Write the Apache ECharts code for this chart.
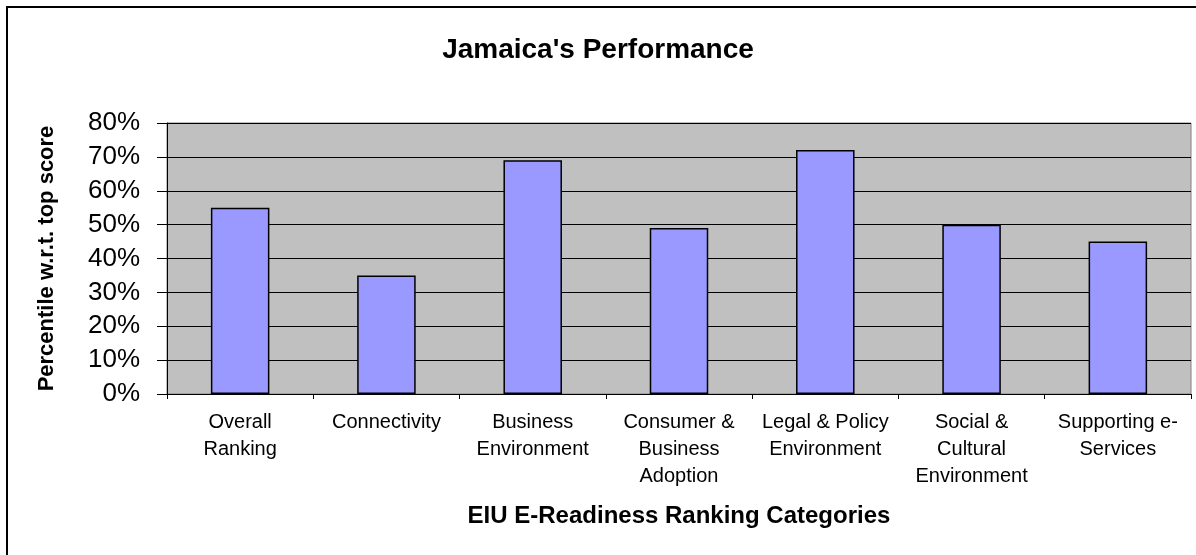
<!DOCTYPE html>
<html>
<head>
<meta charset="utf-8">
<script src="https://cdn.jsdelivr.net/npm/echarts@6/dist/echarts.min.js"></script>
<style>
html,body{margin:0;padding:0;background:#fff;}
#chart{width:1196px;height:555px;}
</style>
</head>
<body>
<div id="chart"></div>
<script>
var titleText = "Jamaica's Performance";
var categories = [
  "Overall\nRanking",
  "Connectivity",
  "Business\nEnvironment",
  "Consumer &\nBusiness\nAdoption",
  "Legal & Policy\nEnvironment",
  "Social &\nCultural\nEnvironment",
  "Supporting e-\nServices"
];
var values = [55, 35, 69, 49, 72, 50, 45];
var yAxisName = "Percentile w.r.t. top score";
var xAxisName = "EIU E-Readiness Ranking Categories";
var yMin = 0, yMax = 80, yInterval = 10;

var chart = echarts.init(document.getElementById('chart'));
var font = "'Liberation Sans', Arial, sans-serif";
chart.setOption({
  backgroundColor: '#ffffff',
  animation: false,
  title: {
    text: titleText,
    left: 'center',
    top: 31,
    textStyle: { fontFamily: font, fontWeight: 'bold', fontSize: 28, color: '#000' }
  },
  graphic: [{
    type: 'rect',
    shape: { x: 7, y: 7, width: 1400, height: 800 },
    style: { fill: 'none', stroke: '#000', lineWidth: 2 },
    silent: true,
    z: 100
  }],
  grid: {
    left: 167, right: 5, top: 123, bottom: 161,
    show: true,
    backgroundColor: '#C0C0C0',
    borderColor: '#808080',
    borderWidth: 1
  },
  xAxis: {
    type: 'category',
    data: categories,
    boundaryGap: true,
    name: xAxisName,
    nameLocation: 'middle',
    nameGap: 110,
    nameTextStyle: { fontFamily: font, fontWeight: 'bold', fontSize: 24, color: '#000' },
    axisLine: { lineStyle: { color: '#000', width: 1 } },
    axisTick: { show: true, length: 5, lineStyle: { color: '#000' } },
    axisLabel: {
      interval: 0,
      margin: 15,
      fontFamily: font,
      fontSize: 20,
      lineHeight: 27,
      color: '#000',
      align: 'center'
    },
    splitLine: { show: false }
  },
  yAxis: {
    type: 'value',
    min: yMin, max: yMax, interval: yInterval,
    name: yAxisName,
    nameLocation: 'middle',
    nameGap: 109,
    nameRotate: 90,
    nameTextStyle: { fontFamily: font, fontWeight: 'bold', fontSize: 22, color: '#000' },
    axisLine: { show: true, lineStyle: { color: '#000', width: 1 } },
    axisTick: { show: true, length: 10, lineStyle: { color: '#000' } },
    axisLabel: {
      formatter: '{value}%',
      margin: 27,
      fontFamily: font,
      fontSize: 26,
      color: '#000'
    },
    splitLine: { show: true, lineStyle: { color: '#000', width: 1 } }
  },
  series: [{
    type: 'bar',
    data: values,
    barWidth: '40%',
    itemStyle: { color: '#9999FF', borderColor: '#000', borderWidth: 1.5 }
  }]
});
</script>
</body>
</html>
